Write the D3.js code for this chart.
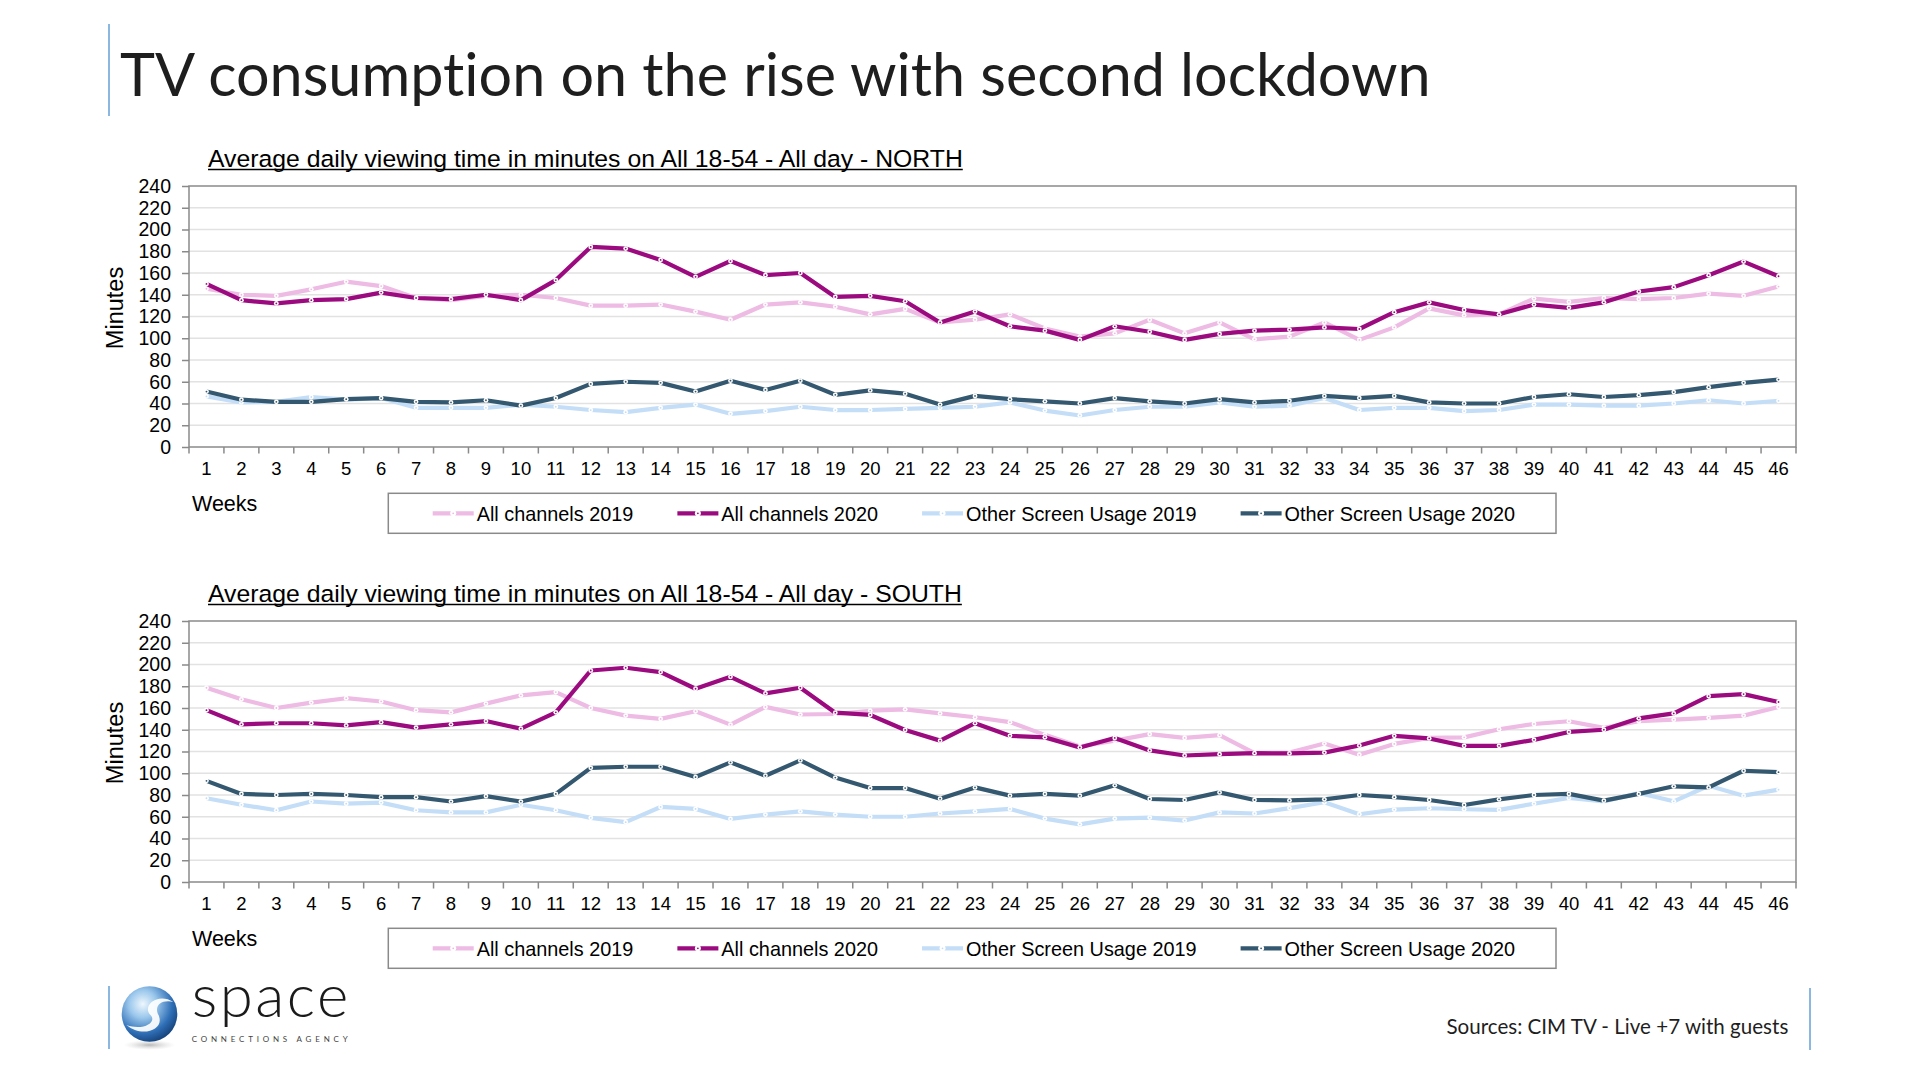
<!DOCTYPE html>
<html><head><meta charset="utf-8">
<script src="https://cdn.jsdelivr.net/npm/d3@7"></script>
<style>body{margin:0;background:#fff;} svg{display:block;} text{font-variant-ligatures:none;}</style>
</head><body>
<svg id="c" width="1920" height="1080"></svg>
<script>
// ---------- DATA ----------
const weeks = [1,2,3,4,5,6,7,8,9,10,11,12,13,14,15,16,17,18,19,20,21,22,23,24,25,26,27,28,29,30,31,32,33,34,35,36,37,38,39,40,41,42,43,44,45,46];
const yTicks = [0,20,40,60,80,100,120,140,160,180,200,220,240];
const seriesNames = ["All channels 2019","All channels 2020","Other Screen Usage 2019","Other Screen Usage 2020"];

const northAll2019 = [145.5,140,139,145,152,148,137,135,139,140,137,130,130,131,124.5,117,131,133,129,122,127,114.5,117,122,109,101.5,104.5,117,104.5,114.5,99,101.5,114.5,98.5,110,127.5,121,122,136.5,133.5,137,136,137,141,139,147.5];
const northAll2020 = [150,135,132,135,136,142,137,136,140,135,153.5,184,182.5,172,156.5,171,158,160,138,139,134,114.5,124.5,111,107,98.5,111,106,98.5,104,107,108,110,108.5,124,133,126,122,131,128,133,143,147,158,170.5,157];
const northOSU2019 = [46.5,41,41.5,46,43.5,45,36,36,36,39,37,34,32,36,39,30.5,33,37,34,34,35,36,37,41,33.5,29,34,37,37,41,37,38,45,34,36,36,33,34,39,39,38,38,40,43,40,42.5];
const northOSU2020 = [51,43.5,41.5,41.5,44,45,41.5,41,43,38,45,58,60,59,51,61,52.5,61,48,52,49,39,47,44,42,40,45,42,40,44,41,42.5,47,45,47,41,40,40,46,48.5,46,47.7,50.5,55,59,62];

const southAll2019 = [178.6,168,160,165,169,166,158,156,164,171.6,174.6,160,153,150,157,144.7,161,154,154.5,157.5,158.8,155,151.5,147,135.3,124.6,130,136,132.5,135,118.5,119,127.3,117,127,132.5,133,140.5,145.3,147.8,141.7,147.8,149.3,151,153,161];
const southAll2020 = [158,145,146,146,144,147,142,145,148,141,156,194.5,197,193,177.7,188.7,173.4,178.6,155.7,153.6,139.8,130,146,134.4,133,123.7,132.5,121,116.3,117.5,118.5,118.2,119,125.5,134.4,132,125.2,125.2,130.7,138,140,150.5,155,171,172.8,165.5];
const southOSU2019 = [77,71,66,74,72,73,66,64,64,71,66,59,55,69,67.2,58,62,65,62,60,60,63,65,67.2,58.3,53,58.3,59.2,56.5,64,63,68,73.3,62.3,66.6,67.8,66.9,66.3,72,77.3,74,81.8,74.2,88.5,79.4,84.9];
const southOSU2020 = [93,81,80,81,80,78,78,74,79,74,81,105,106,106,96.5,110,97.7,111.8,96,86.4,86.4,76.6,87,79.4,81,79.4,88.9,76.3,75.4,82.4,75.4,75,76,80,78,75.4,70.8,76,80,81,74.8,81,88,87,102.3,101];

// ---------- STYLE ----------
const seriesColors = ["#EDBBE3","#9B0A7E","#C4DEF7","#34586F"];
const AR = "'Liberation Sans', Arial, sans-serif";
const SANS = "Lato, 'Open Sans', sans-serif";

const svg = d3.select("#c");
svg.append("rect").attr("width",1920).attr("height",1080).attr("fill","#fff");

function fitFont(sel, target){
  const len = sel.node().getComputedTextLength();
  const fs = parseFloat(sel.attr("font-size"));
  sel.attr("font-size", (fs*target/len).toFixed(2));
  return fs*target/len;
}

// ---------- HEADER ----------
svg.append("line").attr("x1",109).attr("x2",109).attr("y1",24).attr("y2",116)
  .attr("stroke","#8ab8e0").attr("stroke-width",2);
const title = svg.append("text").attr("x",120).attr("y",95.5)
  .attr("font-family",SANS).attr("font-size",60).attr("fill","#1e1e1e")
  .text("TV consumption on the rise with second lockdown");
fitFont(title, 1311);

// ---------- CHARTS ----------
const plotL = 189, plotR = 1796, plotH = 261;
const x = d3.scaleBand().domain(weeks).range([plotL, plotR]).paddingInner(0).paddingOuter(0);
let titleFS = null;

function drawChart(top, chartTitle, data){
  const g = svg.append("g");
  const bottom = top + plotH;
  const y = d3.scaleLinear().domain([0,240]).range([bottom, top]);

  // chart title
  const t = g.append("text").attr("x",208).attr("y",top-19)
    .attr("font-family",AR).attr("font-size",22).attr("fill","#000").text(chartTitle);
  if (titleFS === null) titleFS = fitFont(t, 755); else t.attr("font-size", titleFS);
  const tw = t.node().getComputedTextLength();
  g.append("line").attr("x1",208).attr("x2",208+tw).attr("y1",top-16.5).attr("y2",top-16.5)
    .attr("stroke","#000").attr("stroke-width",1.6);

  // gridlines
  g.append("g").selectAll("line").data(yTicks.filter(v=>v>0 && v<240)).join("line")
    .attr("x1",plotL).attr("x2",plotR).attr("y1",d=>y(d)).attr("y2",d=>y(d))
    .attr("stroke","#e2e2e2").attr("stroke-width",1.5);

  // frame
  g.append("rect").attr("x",plotL).attr("y",top).attr("width",plotR-plotL).attr("height",plotH)
    .attr("fill","none").attr("stroke","#8a8a8a").attr("stroke-width",1.5);

  // y axis
  const ya = g.append("g").attr("transform",`translate(${plotL},0)`)
    .call(d3.axisLeft(y).tickValues(yTicks).tickSize(7).tickPadding(11));
  ya.select(".domain").remove();
  ya.selectAll(".tick line").attr("stroke","#8a8a8a").attr("stroke-width",1.5);
  ya.selectAll(".tick text").attr("font-family",AR).attr("font-size",19.5).attr("fill","#000");

  // x axis labels
  const xa = g.append("g").attr("transform",`translate(0,${bottom})`)
    .call(d3.axisBottom(x).tickSize(0).tickPadding(15));
  xa.select(".domain").remove();
  xa.selectAll(".tick text").attr("font-family",AR).attr("font-size",18.5).attr("fill","#000");
  // x tick marks between categories
  const edges = weeks.map(d=>x(d)).concat([x(weeks[weeks.length-1]) + x.bandwidth()]);
  g.append("g").selectAll("line").data(edges).join("line")
    .attr("x1",d=>d).attr("x2",d=>d).attr("y1",bottom).attr("y2",bottom+6.5)
    .attr("stroke","#8a8a8a").attr("stroke-width",1.5);

  // y label
  g.append("text").attr("transform",`translate(122.5,${top+122}) rotate(-90)`)
    .attr("text-anchor","middle").attr("font-family",AR).attr("font-size",23.5).attr("fill","#000")
    .text("Minutes");

  // Weeks label
  g.append("text").attr("x",192).attr("y",bottom+64).attr("font-family",AR)
    .attr("font-size",21.5).attr("fill","#000").text("Weeks");

  // series
  const cx = d => x(d) + x.bandwidth()/2;
  data.forEach((vals, i) => {
    const pts = weeks.map((w, j) => [w, vals[j]]);
    g.append("path").datum(pts)
      .attr("d", d3.line().x(p=>cx(p[0])).y(p=>y(p[1])))
      .attr("fill","none").attr("stroke",seriesColors[i]).attr("stroke-width",4.2)
      .attr("stroke-linejoin","round");
    const mk = g.append("g").selectAll("g").data(pts).join("g")
      .attr("transform",p=>`translate(${cx(p[0])},${y(p[1])})`);
    mk.append("circle").attr("r",2.4).attr("fill","#fff");
    mk.append("circle").attr("r",0.9).attr("fill",seriesColors[i]);
  });

  // legend
  const lt = bottom + 46.3, lh = 40;
  g.append("rect").attr("x",388.3).attr("y",lt).attr("width",1556-388.3).attr("height",lh)
    .attr("fill","#fff").attr("stroke","#8a8a8a").attr("stroke-width",1.5);
  let lx = 432.7;
  const ly = lt + lh/2;
  seriesNames.forEach((name, i) => {
    g.append("line").attr("x1",lx).attr("x2",lx+41).attr("y1",ly).attr("y2",ly)
      .attr("stroke",seriesColors[i]).attr("stroke-width",4.2);
    g.append("circle").attr("cx",lx+20.5).attr("cy",ly).attr("r",3).attr("fill","#fff");
    g.append("circle").attr("cx",lx+20.5).attr("cy",ly).attr("r",0.9).attr("fill",seriesColors[i]);
    const tx = g.append("text").attr("x",lx+44).attr("y",ly+7.3).attr("font-family",AR)
      .attr("font-size",19.85).attr("fill","#000").text(name);
    lx = lx + 44 + tx.node().getComputedTextLength() + 44;
  });
}

drawChart(186, "Average daily viewing time in minutes on All 18-54 - All day - NORTH",
  [northAll2019, northAll2020, northOSU2019, northOSU2020]);
drawChart(621, "Average daily viewing time in minutes on All 18-54 - All day - SOUTH",
  [southAll2019, southAll2020, southOSU2019, southOSU2020]);

// ---------- FOOTER ----------
svg.append("line").attr("x1",109).attr("x2",109).attr("y1",986).attr("y2",1049)
  .attr("stroke","#8ab8e0").attr("stroke-width",2);
svg.append("line").attr("x1",1810).attr("x2",1810).attr("y1",988).attr("y2",1050)
  .attr("stroke","#8ab8e0").attr("stroke-width",2);

const defs = svg.append("defs");
const rg = defs.append("radialGradient").attr("id","sph").attr("cx","38%").attr("cy","32%").attr("r","70%");
rg.append("stop").attr("offset","0%").attr("stop-color","#eef7fd");
rg.append("stop").attr("offset","35%").attr("stop-color","#9cc8ec");
rg.append("stop").attr("offset","75%").attr("stop-color","#2f6fb6");
rg.append("stop").attr("offset","100%").attr("stop-color","#18467f");
const sg = defs.append("radialGradient").attr("id","shd").attr("cx","50%").attr("cy","50%").attr("r","50%");
sg.append("stop").attr("offset","0%").attr("stop-color","#9a9a9a").attr("stop-opacity",0.7);
sg.append("stop").attr("offset","100%").attr("stop-color","#cfcfcf").attr("stop-opacity",0);

const lcx = 149.5, lcy = 1014, lr = 27.8;
svg.append("ellipse").attr("cx",lcx).attr("cy",1045).attr("rx",26).attr("ry",5).attr("fill","url(#shd)");
svg.append("circle").attr("cx",lcx).attr("cy",lcy).attr("r",lr).attr("fill","url(#sph)");
svg.append("path")
  .attr("d",`M ${lcx+24} ${lcy-12} C ${lcx+8} ${lcy-22} ${lcx-8} ${lcy-8} ${lcx+1} ${lcy+1}
             C ${lcx+8} ${lcy+8} ${lcx-6} ${lcy+17} ${lcx-23} ${lcy+11}
             C ${lcx-8} ${lcy+24} ${lcx+16} ${lcy+16} ${lcx+9} ${lcy+1}
             C ${lcx+4} ${lcy-8} ${lcx+12} ${lcy-15} ${lcx+24} ${lcy-12} Z`)
  .attr("fill","#ffffff").attr("opacity",0.92);

svg.append("text").attr("x",191.7).attr("y",1016.5).attr("font-family",SANS).attr("font-weight",300)
  .attr("font-size",60).attr("fill","#1a1a1a").attr("textLength",156.7).attr("lengthAdjust","spacing")
  .text("space");
svg.append("text").attr("x",191.7).attr("y",1041.7).attr("font-family",SANS)
  .attr("font-size",8).attr("fill","#444").attr("textLength",156).attr("lengthAdjust","spacing")
  .text("CONNECTIONS AGENCY");

const src = svg.append("text").attr("x",1788.3).attr("y",1034.3).attr("text-anchor","end")
  .attr("font-family",SANS).attr("font-size",21).attr("fill","#1e1e1e")
  .text("Sources: CIM TV - Live +7 with guests");
fitFont(src, 342);
</script>
</body></html>
